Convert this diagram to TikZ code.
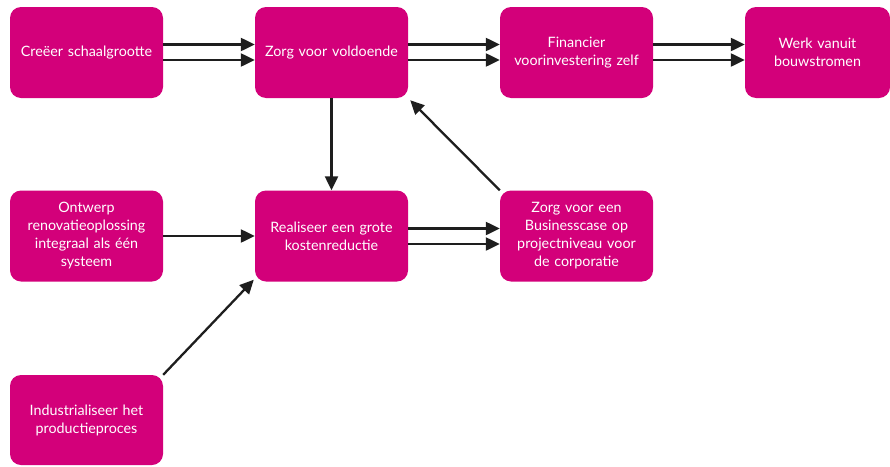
\documentclass[tikz,border=0pt]{standalone}
\usepackage{fontspec}
\setmainfont{Lato}
\usetikzlibrary{arrows.meta}
\definecolor{tmag}{RGB}{211,0,122}
\definecolor{arr}{RGB}{30,30,30}
\begin{document}
\begin{tikzpicture}[x=1pt,y=-1pt,
  box/.style={fill=tmag,rounded corners=11pt,minimum width=153pt,minimum height=91pt,
    text=white,align=center,text width=146pt,font=\fontsize{14.3}{18}\selectfont,inner sep=0pt},
  conn/.style={draw=arr,line width=2.3pt,-{Triangle[length=14pt,width=13pt]}}]
\useasboundingbox (0,0) rectangle (890,466);
\node[box] (A) at (86.5,52.5) {Creëer schaalgrootte};
\node[box] (B) at (331.5,52.5) {Zorg voor voldoende};
\node[box] (C) at (576.5,52.5) {Financier\\voorinvestering zelf};
\node[box,minimum width=145pt,text width=140pt] (D) at (817.5,52.5) {Werk vanuit\\bouwstromen};
\node[box] (E) at (86.5,236) {Ontwerp\\renovatieoplossing\\integraal als één\\systeem};
\node[box] (F) at (331.5,236) {Realiseer een grote\\kostenreductie};
\node[box] (G) at (576.5,236) {Zorg voor een\\Businesscase op\\projectniveau voor\\de corporatie};
\node[box,minimum height=90pt] (H) at (86.5,420) {Industrialiseer het\\productieproces};
% double arrows
\draw[conn] (A.east|-0,44.5) -- (B.west|-0,44.5);
\draw[conn] (A.east|-0,60) -- (B.west|-0,60);
\draw[conn] (B.east|-0,44.5) -- (C.west|-0,44.5);
\draw[conn] (B.east|-0,60) -- (C.west|-0,60);
\draw[conn] (C.east|-0,44.5) -- (D.west|-0,44.5);
\draw[conn] (C.east|-0,60) -- (D.west|-0,60);
\draw[conn] (F.east|-0,228.5) -- (G.west|-0,228.5);
\draw[conn] (F.east|-0,244) -- (G.west|-0,244);
% single arrows
\draw[conn] (E.east) -- (F.west);
\draw[conn] (B.south) -- (F.north);
\draw[conn] (G.north west) -- ([shift={(2pt,-2pt)}]B.south east);
\draw[conn] (H.north east) -- ([shift={(-1pt,2pt)}]F.south west);
\end{tikzpicture}
\end{document}
